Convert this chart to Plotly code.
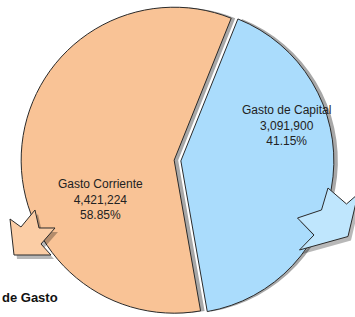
import plotly.graph_objects as go

# ---- data ----
labels = ["Gasto de Capital", "Gasto Corriente"]
values = [3091900, 4421224]
slice_colors = ["#AADCFC", "#F9C396"]
arrow_colors = ["#BFE6FD", "#FBCDA5"]
legend_title = "de Gasto"

W, H = 355, 317
total = sum(values)
label_texts = [f"{l}<br>{v:,}<br>{v / total:.2%}" for l, v in zip(labels, values)]

pull = 0.022
dom_x = [0.0594, 0.9406]
dom_y = [0.0003, 0.9868]
sh_dx = 4 / W

fig = go.Figure()

# drop shadow pie
fig.add_trace(go.Pie(
    labels=labels, values=values, sort=False, direction="clockwise", rotation=21.9,
    pull=[pull, pull], marker=dict(colors=["#a8a8a8", "#a8a8a8"], line=dict(width=0)),
    textinfo="none", hoverinfo="skip", showlegend=False,
    domain=dict(x=[dom_x[0] + sh_dx, dom_x[1] + sh_dx], y=dom_y),
))

# main pie
fig.add_trace(go.Pie(
    labels=labels, values=values, sort=False, direction="clockwise", rotation=21.9,
    pull=[pull, pull], marker=dict(colors=slice_colors, line=dict(color="#2a2a2a", width=1)),
    textinfo="none", showlegend=False,
    domain=dict(x=dom_x, y=dom_y),
))


def px_path(pts, dx=0, dy=0):
    s = ""
    for i, (x, y) in enumerate(pts):
        s += ("M" if i == 0 else "L") + f"{(x + dx) / W:.5f},{1 - (y + dy) / H:.5f} "
    return s + "Z"


left_arrow = [(10, 219), (21, 227), (35, 210), (39, 228), (55, 228), (41, 244), (51, 255), (14, 255)]
right_arrow = [(328, 188), (346.5, 204), (358, 194), (348, 236.5), (299.5, 250), (314, 235), (297.5, 218), (321.5, 210)]

shapes = []
for pts, col in ((left_arrow, arrow_colors[1]), (right_arrow, arrow_colors[0])):
    shapes.append(dict(type="path", path=px_path(pts, 3, 4), xref="paper", yref="paper",
                       fillcolor="rgba(0,0,0,0.28)", line=dict(width=0), layer="above"))
    shapes.append(dict(type="path", path=px_path(pts), xref="paper", yref="paper",
                       fillcolor=col, line=dict(color="#2a2a2a", width=1), layer="above"))

label_pos = [(286.5, 125), (100, 199.5)]
annotations = []
for t, (x, y) in zip(label_texts, label_pos):
    annotations.append(dict(text=t, x=x / W, y=1 - y / H, xref="paper", yref="paper",
                            showarrow=False, xanchor="center", yanchor="middle",
                            font=dict(family="Liberation Sans, Arial", size=12, color="#222222")))
annotations.append(dict(text=f"<b>{legend_title}</b>", x=0, y=1 - 297 / H, xref="paper", yref="paper",
                        showarrow=False, xanchor="left", yanchor="middle",
                        font=dict(family="Liberation Sans, Arial", size=13, color="#111111")))

fig.update_layout(
    width=W, height=H, margin=dict(l=0, r=0, t=0, b=0),
    paper_bgcolor="white", plot_bgcolor="white",
    shapes=shapes, annotations=annotations, showlegend=False,
)

fig.write_html("out.html", config={"displayModeBar": False},
               post_script="document.body.style.margin='0';")
